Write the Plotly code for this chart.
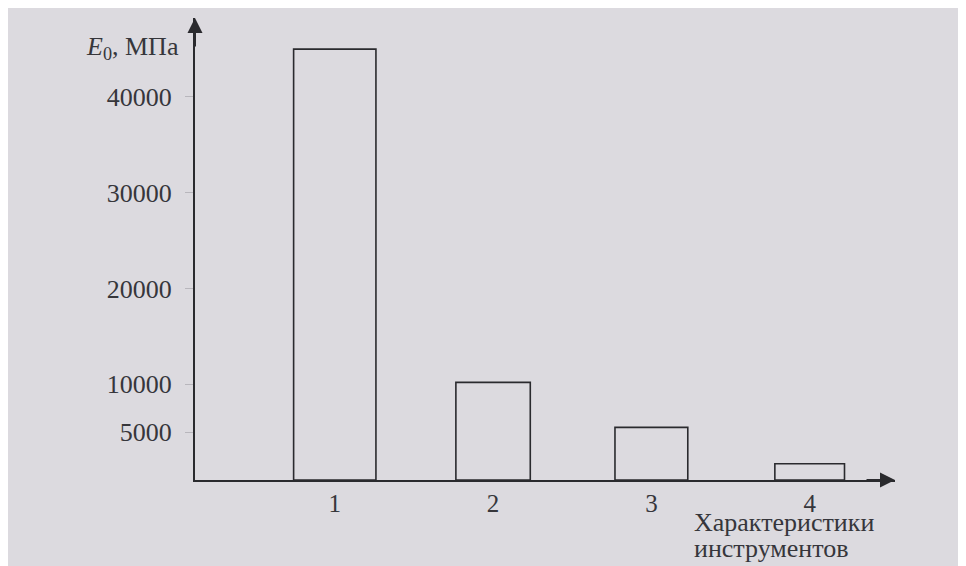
import plotly.graph_objects as go

categories = ["1", "2", "3", "4"]
values = [45000, 10200, 5500, 1700]
bar_widths = [0.52, 0.47, 0.46, 0.44]
tick_vals = [5000, 10000, 20000, 30000, 40000]
tick_text = ["5000", "10000", "20000", "30000", "40000"]

bg = "#dcdadf"
ink = "#2a2a2e"
txt = "#36363b"
font_family = "Liberation Serif, Times New Roman, serif"

fig = go.Figure(
    go.Bar(
        x=categories,
        y=values,
        width=bar_widths,
        marker=dict(color="rgba(0,0,0,0)", line=dict(color=ink, width=1.6)),
        showlegend=False,
    )
)

fig.update_layout(
    width=966,
    height=566,
    margin=dict(l=187, r=79, t=10, b=94, autoexpand=False),
    paper_bgcolor=bg,
    plot_bgcolor=bg,
    font=dict(family=font_family, size=26, color=txt),
    xaxis=dict(
        type="category",
        range=[-0.883, 3.539],
        showline=True,
        linecolor=ink,
        linewidth=2,
        showgrid=False,
        zeroline=False,
        ticks="",
        ticklabelstandoff=0,
        tickfont=dict(size=25),
    ),
    yaxis=dict(
        range=[0, 48250],
        showline=True,
        linecolor=ink,
        linewidth=2,
        showgrid=False,
        zeroline=False,
        tickvals=tick_vals,
        ticktext=tick_text,
        ticks="outside",
        ticklen=8,
        tickcolor="#b8b6bc",
        ticklabelstandoff=8,
        tickfont=dict(size=26),
    ),
    annotations=[
        dict(xref="paper", yref="paper", x=0, y=1.0, ax=0, ay=30,
             showarrow=True, arrowhead=2, arrowsize=1.5, arrowwidth=2,
             arrowcolor=ink, text=""),
        dict(xref="paper", yref="paper", x=1.0, y=0, ax=-30, ay=0,
             showarrow=True, arrowhead=2, arrowsize=1.5, arrowwidth=2,
             arrowcolor=ink, text=""),
        dict(xref="paper", yref="paper", x=-0.02, y=0.935, xanchor="right",
             yanchor="middle", showarrow=False,
             text="<i>E</i><sub>0</sub>, МПа", font=dict(size=26)),
        dict(xref="paper", yref="paper", x=0.71, y=-0.093, xanchor="left",
             yanchor="middle", align="left", showarrow=False,
             text="Характеристики", font=dict(size=26)),
        dict(xref="paper", yref="paper", x=0.71, y=-0.148, xanchor="left",
             yanchor="middle", align="left", showarrow=False,
             text="инструментов", font=dict(size=26)),
    ],
)

fig.write_html("out.html")
